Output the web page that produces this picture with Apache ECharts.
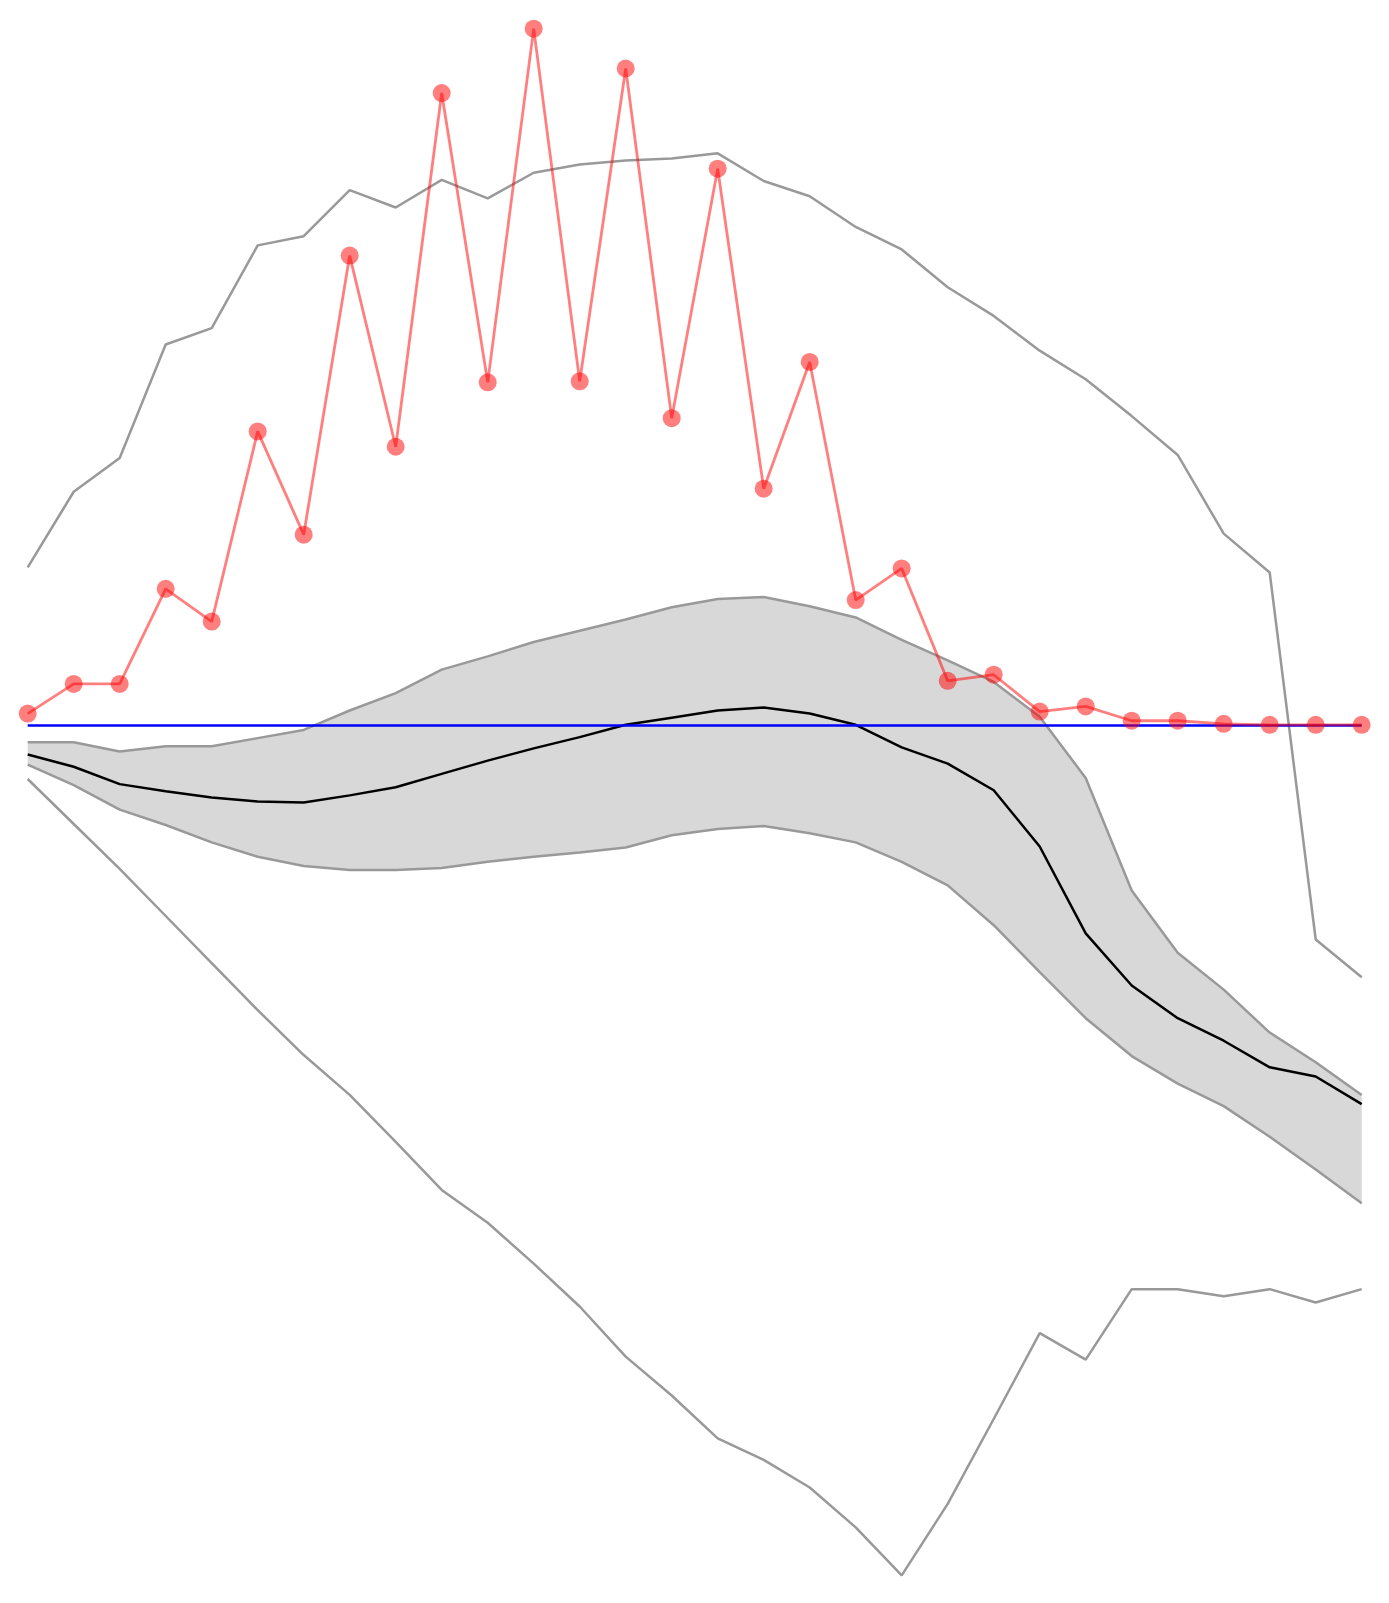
<!DOCTYPE html>
<html>
<head>
<meta charset="utf-8">
<script src="https://cdn.jsdelivr.net/npm/echarts@6/dist/echarts.min.js"></script>
<style>
  html, body { margin: 0; padding: 0; background: #fff; }
  #chart { width: 1389px; height: 1603px; }
</style>
</head>
<body>
<div id="chart"></div>
<script>
const steps = ["0","1","2","3","4","5","6","7","8","9","10","11","12","13","14","15","16","17","18","19","20","21","22","23","24","25","26","27","28","29"];

const observed = [0.11, 0.40, 0.40, 1.33, 1.01, 2.87, 1.86, 4.59, 2.72, 6.18, 3.35, 6.81, 3.36, 6.42, 3.00,
  5.44, 2.31, 3.55, 1.22, 1.53, 0.43, 0.49, 0.13, 0.18, 0.04, 0.04, 0.01, 0, 0, 0];

const maxLine = [1.54, 2.28, 2.61, 3.72, 3.88, 4.69, 4.78, 5.23, 5.06, 5.33, 5.15, 5.40, 5.48, 5.52, 5.54,
  5.59, 5.32, 5.17, 4.87, 4.65, 4.28, 4.00, 3.66, 3.38, 3.02, 2.64, 1.87, 1.49, -2.10, -2.47];

const upperBand = [-0.17, -0.17, -0.26, -0.21, -0.21, -0.13, -0.05, 0.14, 0.31, 0.54, 0.67, 0.81, 0.92, 1.03, 1.15,
  1.23, 1.25, 1.16, 1.05, 0.83, 0.63, 0.42, 0.08, -0.52, -1.62, -2.23, -2.59, -3.01, -3.30, -3.62];

const meanLine = [-0.29, -0.41, -0.58, -0.65, -0.71, -0.75, -0.76, -0.69, -0.61, -0.48, -0.35, -0.23, -0.12, 0.00, 0.07,
  0.14, 0.17, 0.11, 0.00, -0.22, -0.38, -0.64, -1.19, -2.04, -2.55, -2.87, -3.09, -3.35, -3.44, -3.71];

const lowerBand = [-0.39, -0.59, -0.83, -0.98, -1.15, -1.29, -1.38, -1.42, -1.42, -1.40, -1.34, -1.29, -1.25, -1.20, -1.08,
  -1.02, -0.99, -1.06, -1.15, -1.34, -1.57, -1.96, -2.42, -2.87, -3.24, -3.51, -3.73, -4.03, -4.35, -4.68];

const minLine = [-0.53, -0.97, -1.41, -1.87, -2.33, -2.79, -3.23, -3.62, -4.08, -4.55, -4.87, -5.27, -5.69, -6.18, -6.56,
  -6.98, -7.19, -7.46, -7.85, -8.32, -7.62, -6.79, -5.95, -6.21, -5.52, -5.52, -5.59, -5.52, -5.65, -5.52];

// band thickness, stacked on top of the lower edge
const bandWidth = upperBand.map((v, i) => +(v - lowerBand[i]).toFixed(2));

const chart = echarts.init(document.getElementById("chart"));

const grayLine = (name, data) => ({
  name: name,
  type: "line",
  data: data,
  symbol: "none",
  z: 3,
  lineStyle: { color: "#999999", width: 2.5 }
});

const option = {
  animation: false,
  grid: { left: 27.7, right: 27.3, top: 0, bottom: 0 },
  xAxis: {
    type: "category",
    data: steps,
    boundaryGap: false,
    show: false
  },
  yAxis: {
    type: "value",
    min: -8.59,
    max: 7.09,
    show: false,
    splitLine: { show: false }
  },
  series: [
    {
      name: "bandBase",
      type: "line",
      data: lowerBand,
      stack: "band",
      stackStrategy: "all",
      symbol: "none",
      lineStyle: { opacity: 0 },
      z: 1
    },
    {
      name: "band",
      type: "line",
      data: bandWidth,
      stack: "band",
      stackStrategy: "all",
      symbol: "none",
      lineStyle: { opacity: 0 },
      areaStyle: { color: "#d8d8d8", opacity: 1 },
      z: 1
    },
    grayLine("upper", upperBand),
    grayLine("lower", lowerBand),
    grayLine("max", maxLine),
    grayLine("min", minLine),
    {
      name: "mean",
      type: "line",
      data: meanLine,
      symbol: "none",
      z: 4,
      lineStyle: { color: "#000000", width: 2.5 },
      markLine: {
        silent: true,
        symbol: "none",
        label: { show: false },
        lineStyle: { color: "#0000ff", width: 2.5, type: "solid" },
        data: [{ yAxis: 0 }]
      }
    },
    {
      name: "observed",
      type: "line",
      data: observed,
      symbol: "circle",
      symbolSize: 18,
      z: 6,
      lineStyle: { color: "rgba(255,0,0,0.5)", width: 2.8 },
      itemStyle: { color: "rgba(255,0,0,0.5)", borderWidth: 0 }
    }
  ]
};

chart.setOption(option);
</script>
</body>
</html>
